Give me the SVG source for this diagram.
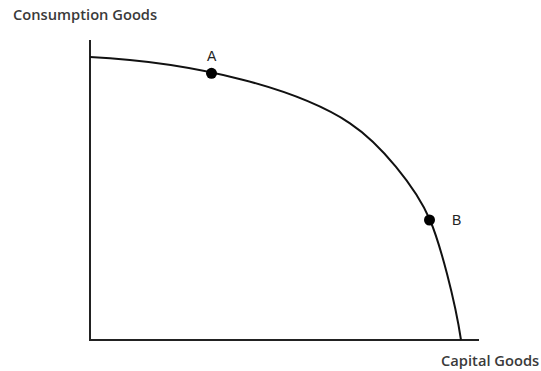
<svg xmlns="http://www.w3.org/2000/svg" width="541" height="371" viewBox="0 0 541 371">
<style>
.lbl{font-family:"Open Sans","Liberation Sans",sans-serif;font-size:14.7px;font-weight:600;fill:#3a3a3a}
.pt{font-family:"Liberation Sans",Arial,sans-serif;font-size:14px;fill:#222}
.ax{stroke:#222;stroke-width:2;fill:none}
.cv{stroke:#111;stroke-width:2;fill:none}
</style>
<rect width="541" height="371" fill="#fff"/>
<g id="axes">
<path class="ax" d="M90,40 V340 H479"/>
</g>
<g id="connectors">
<path id="ppf" class="cv" d="M90,57 C200,62.5 300,90 350,123.3 C380,143.3 416,187 430,220 C440,243.5 455,300 461,340"/>
</g>
<g id="pointA">
<circle cx="211.5" cy="73.3" r="5.5" fill="#000"/>
<text class="pt" x="207" y="61">A</text>
</g>
<g id="pointB">
<circle cx="429.5" cy="220" r="5.5" fill="#000"/>
<text class="pt" x="452" y="225">B</text>
</g>
<g id="labels">
<text class="lbl" x="13" y="20">Consumption Goods</text>
<text class="lbl" x="441" y="366">Capital Goods</text>
</g>
</svg>
